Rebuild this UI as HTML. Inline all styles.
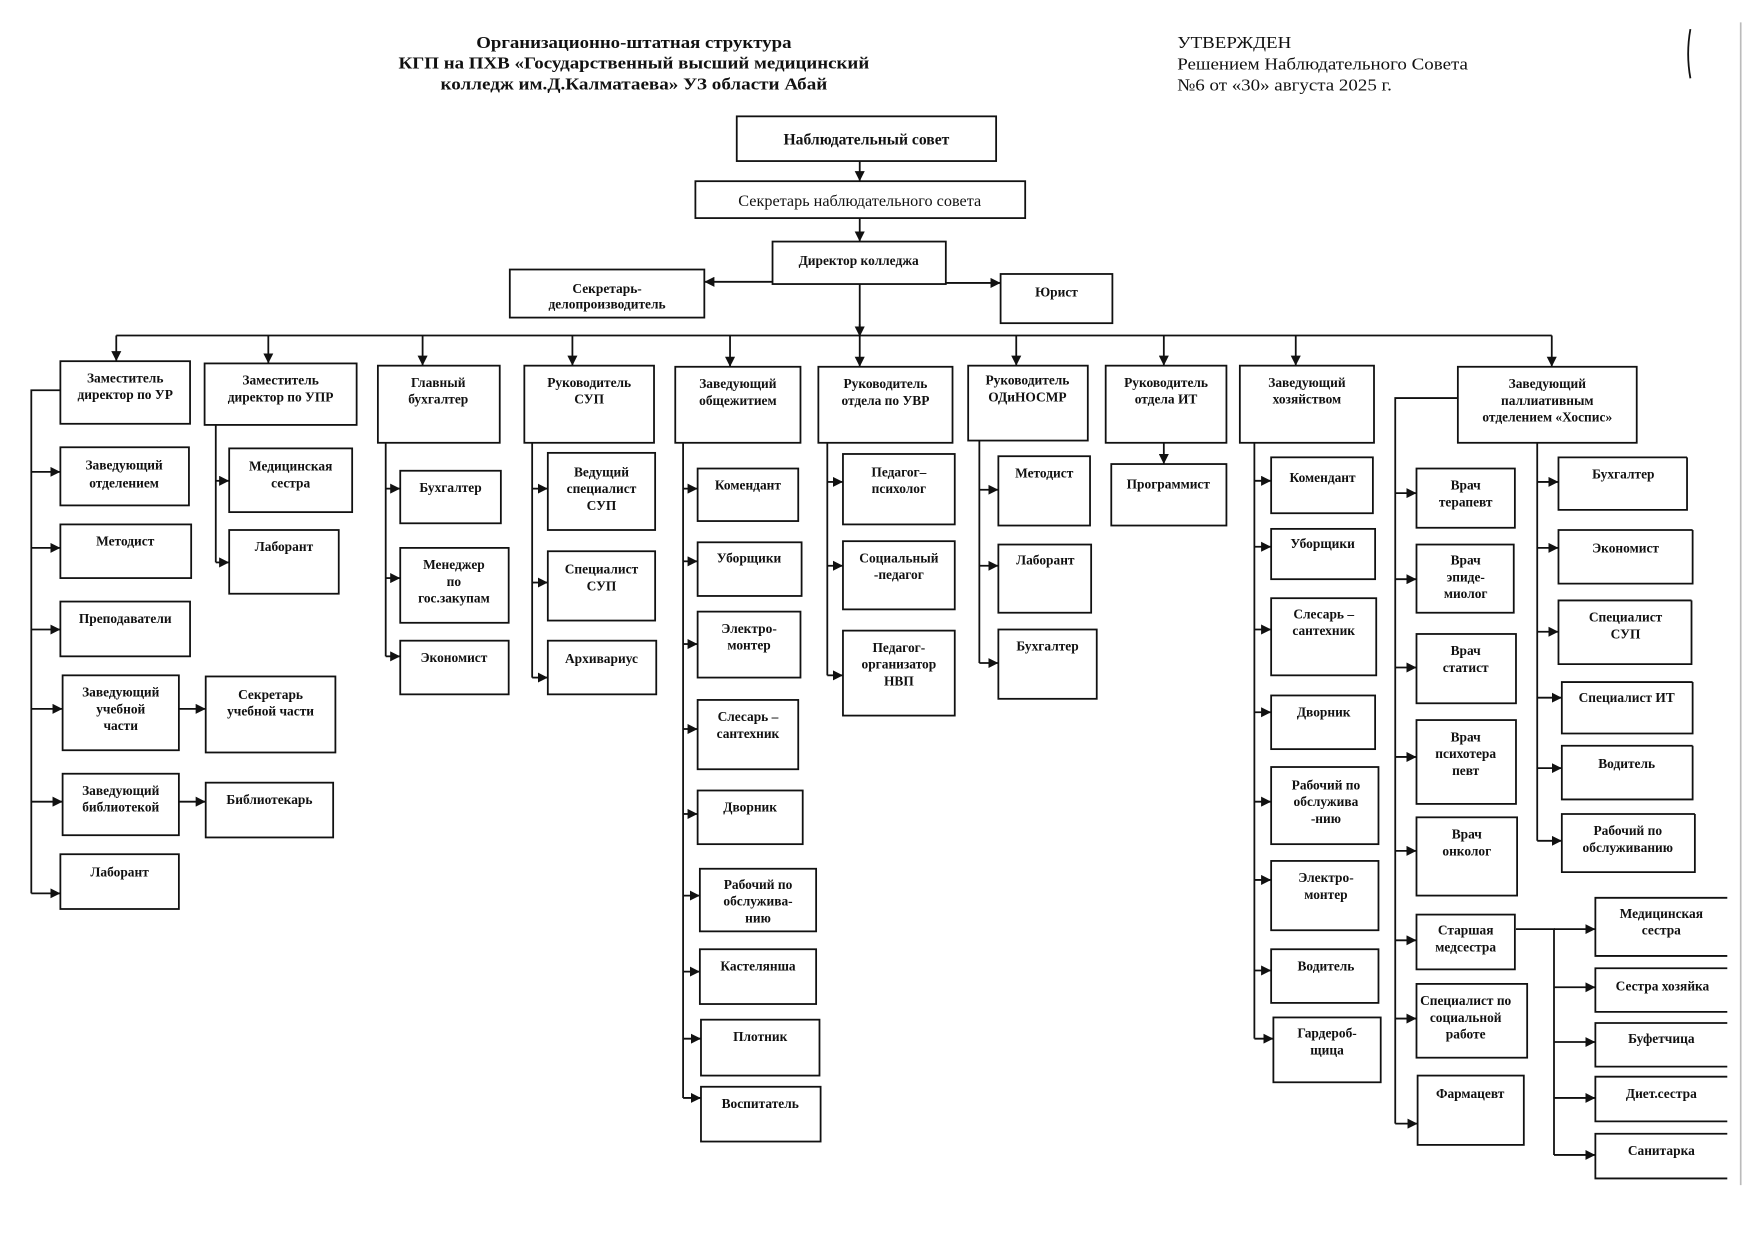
<!DOCTYPE html>
<html><head><meta charset="utf-8"><style>
html,body{margin:0;padding:0;background:#fff;}
svg{display:block;}
.b rect{fill:#fff;stroke:#111;stroke-width:1.6;}
text{font-family:"Liberation Serif",serif;font-size:12px;font-weight:bold;fill:#111;text-anchor:middle;}
.l{stroke:#111;stroke-width:1.6;fill:none;}
.h{font-size:15px;}
.n{font-weight:normal;}
</style></head><body>
<svg width="1753" height="1240" viewBox="0 0 1568 1109" xmlns="http://www.w3.org/2000/svg">
<defs><marker id="a" viewBox="0 0 10 10" refX="10" refY="5" markerWidth="9" markerHeight="9" markerUnits="userSpaceOnUse" orient="auto"><path d="M0,0L10,5L0,10z" fill="#111"/></marker></defs>

<!-- Header -->
<text x="567" y="43" class="h" textLength="282" lengthAdjust="spacingAndGlyphs">Организационно-штатная структура</text>
<text x="567" y="61" class="h" textLength="421" lengthAdjust="spacingAndGlyphs">КГП на ПХВ «Государственный высший медицинский</text>
<text x="567" y="80" class="h" textLength="346" lengthAdjust="spacingAndGlyphs">колледж им.Д.Калматаева» УЗ области Абай</text>
<text x="1053" y="43" class="h n" style="text-anchor:start" textLength="102" lengthAdjust="spacingAndGlyphs">УТВЕРЖДЕН</text>
<text x="1053" y="62" class="h n" style="text-anchor:start" textLength="260" lengthAdjust="spacingAndGlyphs">Решением Наблюдательного Совета</text>
<text x="1053" y="81" class="h n" style="text-anchor:start" textLength="192" lengthAdjust="spacingAndGlyphs">№6 от «30» августа 2025 г.</text>
<path d="M1512,26 Q1508,48 1512,70" class="l"/>
<line x1="1557" y1="20" x2="1557" y2="1060" stroke="#bbb" stroke-width="1.5"/>

<g class="b">
<rect x="659" y="104" width="232" height="40"/>
<rect x="622" y="162" width="295" height="33"/>
<rect x="691" y="216" width="155" height="38"/>
<rect x="456" y="241" width="174" height="43"/>
<rect x="895" y="245" width="100" height="44"/>
</g>
<text x="775" y="129" style="font-size:14px">Наблюдательный совет</text>
<text x="769" y="184" class="n" style="font-size:14.5px">Секретарь наблюдательного совета</text>
<text x="768" y="237">Директор колледжа</text>
<text x="543" y="262">Секретарь-</text><text x="543" y="276">делопроизводитель</text>
<text x="945" y="265">Юрист</text>

<path class="l" marker-end="url(#a)" d="M769,144V162"/>
<path class="l" marker-end="url(#a)" d="M769,195V216"/>
<path class="l" marker-end="url(#a)" d="M691,252H630"/>
<path class="l" marker-end="url(#a)" d="M846,253H895"/>
<path class="l" d="M769,254V300M104,300H1388"/>
<path class="l" marker-end="url(#a)" d="M769,290V301"/>
<path class="l" marker-end="url(#a)" d="M104,300V323"/>
<path class="l" marker-end="url(#a)" d="M240,300V325"/>
<path class="l" marker-end="url(#a)" d="M378,300V327"/>
<path class="l" marker-end="url(#a)" d="M512,300V327"/>
<path class="l" marker-end="url(#a)" d="M653,300V328"/>
<path class="l" marker-end="url(#a)" d="M769,300V328"/>
<path class="l" marker-end="url(#a)" d="M909,300V327"/>
<path class="l" marker-end="url(#a)" d="M1041,300V327"/>
<path class="l" marker-end="url(#a)" d="M1159,300V327"/>
<path class="l" marker-end="url(#a)" d="M1388,300V328"/>

<!-- Row heads -->
<g class="b">
<rect x="54" y="323" width="116" height="56"/>
<rect x="183" y="325" width="136" height="55"/>
<rect x="338" y="327" width="109" height="69"/>
<rect x="469" y="327" width="116" height="69"/>
<rect x="604" y="328" width="112" height="68"/>
<rect x="732" y="328" width="120" height="68"/>
<rect x="866" y="327" width="107" height="67"/>
<rect x="989" y="327" width="108" height="69"/>
<rect x="1109" y="327" width="120" height="69"/>
<rect x="1304" y="328" width="160" height="68"/>
</g>
<text x="112" y="342">Заместитель</text><text x="112" y="357">директор по УР</text>
<text x="251" y="344">Заместитель</text><text x="251" y="359">директор по УПР</text>
<text x="392" y="346">Главный</text><text x="392" y="361">бухгалтер</text>
<text x="527" y="346">Руководитель</text><text x="527" y="361">СУП</text>
<text x="660" y="347">Заведующий</text><text x="660" y="362">общежитием</text>
<text x="792" y="347">Руководитель</text><text x="792" y="362">отдела по УВР</text>
<text x="919" y="344">Руководитель</text><text x="919" y="359">ОДиНОСМР</text>
<text x="1043" y="346">Руководитель</text><text x="1043" y="361">отдела ИТ</text>
<text x="1169" y="346">Заведующий</text><text x="1169" y="361">хозяйством</text>
<text x="1384" y="347">Заведующий</text><text x="1384" y="362">паллиативным</text><text x="1384" y="377">отделением «Хоспис»</text>

<!-- Col 1 -->
<path class="l" d="M54,349H28V799"/>
<g class="b">
<rect x="54" y="400" width="115" height="52"/>
<rect x="54" y="469" width="117" height="48"/>
<rect x="54" y="538" width="116" height="49"/>
<rect x="56" y="604" width="104" height="67"/>
<rect x="184" y="605" width="116" height="68"/>
<rect x="56" y="692" width="104" height="55"/>
<rect x="184" y="700" width="114" height="49"/>
<rect x="54" y="764" width="106" height="49"/>
</g>
<path class="l" marker-end="url(#a)" d="M28,422H54"/>
<path class="l" marker-end="url(#a)" d="M28,490H54"/>
<path class="l" marker-end="url(#a)" d="M28,563H54"/>
<path class="l" marker-end="url(#a)" d="M28,634H56"/>
<path class="l" marker-end="url(#a)" d="M160,634H184"/>
<path class="l" marker-end="url(#a)" d="M28,717H56"/>
<path class="l" marker-end="url(#a)" d="M160,717H184"/>
<path class="l" marker-end="url(#a)" d="M28,799H54"/>
<text x="111" y="420">Заведующий</text><text x="111" y="436">отделением</text>
<text x="112" y="488">Методист</text>
<text x="112" y="557">Преподаватели</text>
<text x="108" y="623">Заведующий</text><text x="108" y="638">учебной</text><text x="108" y="653">части</text>
<text x="242" y="625">Секретарь</text><text x="242" y="640">учебной части</text>
<text x="108" y="711">Заведующий</text><text x="108" y="726">библиотекой</text>
<text x="241" y="719">Библиотекарь</text>
<text x="107" y="784">Лаборант</text>

<!-- Col 2 -->
<path class="l" d="M193,380V503"/>
<g class="b"><rect x="205" y="401" width="110" height="57"/><rect x="205" y="474" width="98" height="57"/></g>
<path class="l" marker-end="url(#a)" d="M193,430H205"/>
<path class="l" marker-end="url(#a)" d="M193,503H205"/>
<text x="260" y="421">Медицинская</text><text x="260" y="436">сестра</text>
<text x="254" y="493">Лаборант</text>

<!-- Col 3 -->
<path class="l" d="M345,396V587"/>
<g class="b"><rect x="358" y="421" width="90" height="47"/><rect x="358" y="490" width="97" height="67"/><rect x="358" y="573" width="97" height="48"/></g>
<path class="l" marker-end="url(#a)" d="M345,437H358"/>
<path class="l" marker-end="url(#a)" d="M345,517H358"/>
<path class="l" marker-end="url(#a)" d="M345,587H358"/>
<text x="403" y="440">Бухгалтер</text>
<text x="406" y="509">Менеджер</text><text x="406" y="524">по</text><text x="406" y="539">гос.закупам</text>
<text x="406" y="592">Экономист</text>

<!-- Col 4 -->
<path class="l" d="M476,396V606"/>
<g class="b"><rect x="490" y="405" width="96" height="69"/><rect x="490" y="493" width="96" height="62"/><rect x="490" y="573" width="97" height="48"/></g>
<path class="l" marker-end="url(#a)" d="M476,437H490"/>
<path class="l" marker-end="url(#a)" d="M476,521H490"/>
<path class="l" marker-end="url(#a)" d="M476,606H490"/>
<text x="538" y="426">Ведущий</text><text x="538" y="441">специалист</text><text x="538" y="456">СУП</text>
<text x="538" y="513">Специалист</text><text x="538" y="528">СУП</text>
<text x="538" y="593">Архивариус</text>

<!-- Col 5 -->
<path class="l" d="M611,396V982"/>
<g class="b">
<rect x="624" y="419" width="90" height="47"/>
<rect x="624" y="485" width="93" height="48"/>
<rect x="624" y="547" width="92" height="59"/>
<rect x="624" y="626" width="90" height="62"/>
<rect x="624" y="707" width="94" height="48"/>
<rect x="626" y="777" width="104" height="56"/>
<rect x="626" y="849" width="104" height="49"/>
<rect x="627" y="912" width="106" height="50"/>
<rect x="627" y="972" width="107" height="49"/>
</g>
<path class="l" marker-end="url(#a)" d="M611,437H624"/>
<path class="l" marker-end="url(#a)" d="M611,502H624"/>
<path class="l" marker-end="url(#a)" d="M611,576H624"/>
<path class="l" marker-end="url(#a)" d="M611,652H624"/>
<path class="l" marker-end="url(#a)" d="M611,728H624"/>
<path class="l" marker-end="url(#a)" d="M611,801H626"/>
<path class="l" marker-end="url(#a)" d="M611,869H626"/>
<path class="l" marker-end="url(#a)" d="M611,929H627"/>
<path class="l" marker-end="url(#a)" d="M611,982H627"/>
<text x="669" y="438">Комендант</text>
<text x="670" y="503">Уборщики</text>
<text x="670" y="566">Электро-</text><text x="670" y="581">монтер</text>
<text x="669" y="645">Слесарь –</text><text x="669" y="660">сантехник</text>
<text x="671" y="726">Дворник</text>
<text x="678" y="795">Рабочий по</text><text x="678" y="810">обслужива-</text><text x="678" y="825">нию</text>
<text x="678" y="868">Кастелянша</text>
<text x="680" y="931">Плотник</text>
<text x="680" y="991">Воспитатель</text>

<!-- Col 6 -->
<path class="l" d="M740,396V604"/>
<g class="b"><rect x="754" y="406" width="100" height="63"/><rect x="754" y="484" width="100" height="61"/><rect x="754" y="564" width="100" height="76"/></g>
<path class="l" marker-end="url(#a)" d="M740,431H754"/>
<path class="l" marker-end="url(#a)" d="M740,506H754"/>
<path class="l" marker-end="url(#a)" d="M740,604H754"/>
<text x="804" y="426">Педагог–</text><text x="804" y="441">психолог</text>
<text x="804" y="503">Социальный</text><text x="804" y="518">-педагог</text>
<text x="804" y="583">Педагог-</text><text x="804" y="598">организатор</text><text x="804" y="613">НВП</text>

<!-- Col 7 -->
<path class="l" d="M876,394V593"/>
<g class="b"><rect x="893" y="408" width="82" height="62"/><rect x="893" y="487" width="83" height="61"/><rect x="893" y="563" width="88" height="62"/></g>
<path class="l" marker-end="url(#a)" d="M876,438H893"/>
<path class="l" marker-end="url(#a)" d="M876,506H893"/>
<path class="l" marker-end="url(#a)" d="M876,593H893"/>
<text x="934" y="427">Методист</text>
<text x="935" y="505">Лаборант</text>
<text x="937" y="582">Бухгалтер</text>

<!-- Col 8 -->
<path class="l" marker-end="url(#a)" d="M1041,396V415"/>
<g class="b"><rect x="994" y="415" width="103" height="55"/></g>
<text x="1045" y="437">Программист</text>

<!-- Col 9 -->
<path class="l" d="M1122,396V929"/>
<g class="b">
<rect x="1137" y="409" width="91" height="50"/>
<rect x="1137" y="473" width="93" height="45"/>
<rect x="1137" y="535" width="94" height="69"/>
<rect x="1137" y="622" width="93" height="48"/>
<rect x="1137" y="686" width="96" height="69"/>
<rect x="1137" y="770" width="96" height="62"/>
<rect x="1137" y="849" width="96" height="48"/>
<rect x="1139" y="910" width="96" height="58"/>
</g>
<path class="l" marker-end="url(#a)" d="M1122,430H1137"/>
<path class="l" marker-end="url(#a)" d="M1122,489H1137"/>
<path class="l" marker-end="url(#a)" d="M1122,563H1137"/>
<path class="l" marker-end="url(#a)" d="M1122,637H1137"/>
<path class="l" marker-end="url(#a)" d="M1122,717H1137"/>
<path class="l" marker-end="url(#a)" d="M1122,787H1137"/>
<path class="l" marker-end="url(#a)" d="M1122,868H1137"/>
<path class="l" marker-end="url(#a)" d="M1122,929H1139"/>
<text x="1183" y="431">Комендант</text>
<text x="1183" y="490">Уборщики</text>
<text x="1184" y="553">Слесарь –</text><text x="1184" y="568">сантехник</text>
<text x="1184" y="641">Дворник</text>
<text x="1186" y="706">Рабочий по</text><text x="1186" y="721">обслужива</text><text x="1186" y="736">-нию</text>
<text x="1186" y="789">Электро-</text><text x="1186" y="804">монтер</text>
<text x="1186" y="868">Водитель</text>
<text x="1187" y="928">Гардероб-</text><text x="1187" y="943">щица</text>

<!-- Col 10 -->
<path class="l" d="M1304,356H1248V1005"/>
<g class="b">
<rect x="1267" y="419" width="88" height="53"/>
<rect x="1267" y="487" width="87" height="61"/>
<rect x="1267" y="567" width="89" height="62"/>
<rect x="1267" y="644" width="89" height="75"/>
<rect x="1267" y="731" width="90" height="70"/>
<rect x="1267" y="818" width="88" height="49"/>
<rect x="1267" y="880" width="99" height="66"/>
<rect x="1268" y="962" width="95" height="62"/>
</g>
<path class="l" marker-end="url(#a)" d="M1248,441H1267"/>
<path class="l" marker-end="url(#a)" d="M1248,518H1267"/>
<path class="l" marker-end="url(#a)" d="M1248,597H1267"/>
<path class="l" marker-end="url(#a)" d="M1248,677H1267"/>
<path class="l" marker-end="url(#a)" d="M1248,761H1267"/>
<path class="l" marker-end="url(#a)" d="M1248,841H1267"/>
<path class="l" marker-end="url(#a)" d="M1248,911H1267"/>
<path class="l" marker-end="url(#a)" d="M1248,1005H1268"/>
<text x="1311" y="438">Врач</text><text x="1311" y="453">терапевт</text>
<text x="1311" y="505">Врач</text><text x="1311" y="520">эпиде-</text><text x="1311" y="535">миолог</text>
<text x="1311" y="586">Врач</text><text x="1311" y="601">статист</text>
<text x="1311" y="663">Врач</text><text x="1311" y="678">психотера</text><text x="1311" y="693">певт</text>
<text x="1312" y="750">Врач</text><text x="1312" y="765">онколог</text>
<text x="1311" y="836">Старшая</text><text x="1311" y="851">медсестра</text>
<text x="1311" y="899">Специалист по</text><text x="1311" y="914">социальной</text><text x="1311" y="929">работе</text>
<text x="1315" y="982">Фармацевт</text>

<path class="l" d="M1375,396V752"/>
<path class="l" d="M1509,409H1394V456H1509V409"/>
<path class="l" d="M1514,474H1394V522H1514V474"/>
<path class="l" d="M1513,537H1394V594H1513V537"/>
<path class="l" d="M1514,610H1397V656H1514V610"/>
<path class="l" d="M1514,667H1397V715H1514V667"/>
<path class="l" d="M1516,728H1397V780H1516V728"/>
<path class="l" marker-end="url(#a)" d="M1375,431H1394"/>
<path class="l" marker-end="url(#a)" d="M1375,490H1394"/>
<path class="l" marker-end="url(#a)" d="M1375,565H1394"/>
<path class="l" marker-end="url(#a)" d="M1375,624H1397"/>
<path class="l" marker-end="url(#a)" d="M1375,687H1397"/>
<path class="l" marker-end="url(#a)" d="M1375,752H1397"/>
<text x="1452" y="428">Бухгалтер</text>
<text x="1454" y="494">Экономист</text>
<text x="1454" y="556">Специалист</text><text x="1454" y="571">СУП</text>
<text x="1455" y="628">Специалист ИТ</text>
<text x="1455" y="687">Водитель</text>
<text x="1456" y="747">Рабочий по</text><text x="1456" y="762">обслуживанию</text>

<path class="l" d="M1545,803H1427V855H1545"/>
<path class="l" d="M1545,866H1427V905H1545"/>
<path class="l" d="M1545,915H1427V954H1545"/>
<path class="l" d="M1545,963H1427V1003H1545"/>
<path class="l" d="M1545,1014H1427V1054H1545"/>
<path class="l" d="M1356,831H1390V1033"/>
<path class="l" marker-end="url(#a)" d="M1390,831H1427"/>
<path class="l" marker-end="url(#a)" d="M1390,883H1427"/>
<path class="l" marker-end="url(#a)" d="M1390,932H1427"/>
<path class="l" marker-end="url(#a)" d="M1390,982H1427"/>
<path class="l" marker-end="url(#a)" d="M1390,1033H1427"/>
<text x="1486" y="821">Медицинская</text><text x="1486" y="836">сестра</text>
<text x="1487" y="886">Сестра хозяйка</text>
<text x="1486" y="933">Буфетчица</text>
<text x="1486" y="982">Диет.сестра</text>
<text x="1486" y="1033">Санитарка</text>
</svg>
</body></html>
